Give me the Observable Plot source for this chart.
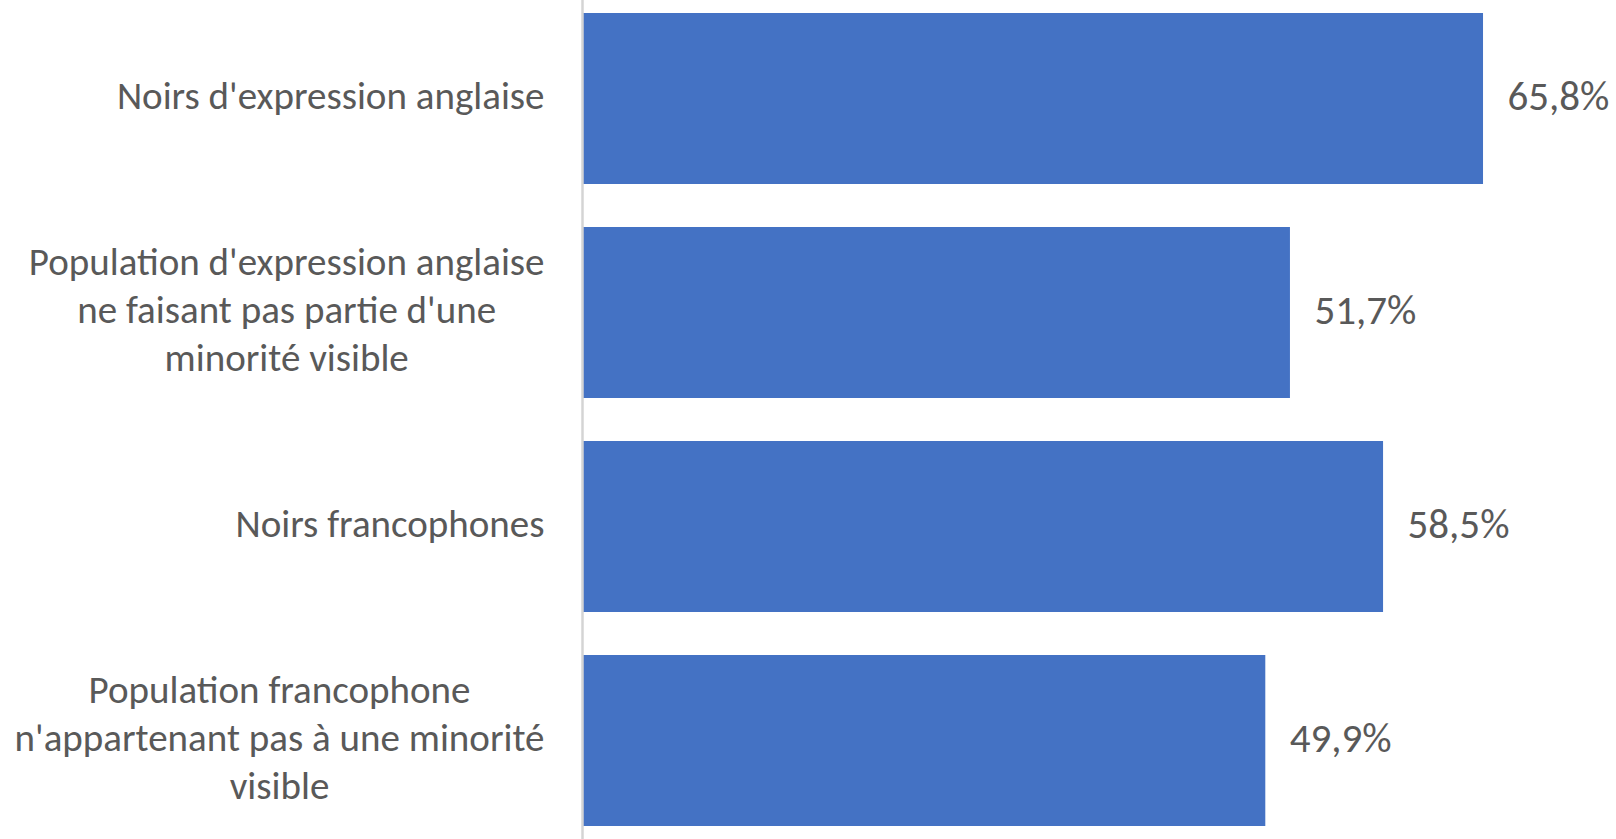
<!DOCTYPE html>
<html>
<head>
<meta charset="utf-8">
<script src="https://cdn.jsdelivr.net/npm/d3@7"></script>
<script src="https://cdn.jsdelivr.net/npm/@observablehq/plot@0.6"></script>
<style>
  html, body { margin: 0; padding: 0; background: #ffffff; }
  #chart { width: 1616px; height: 839px; overflow: hidden; }
</style>
</head>
<body>
<div id="chart"></div>
<script>
const categories = [
  "Noirs d'expression anglaise",
  "Population d'expression anglaise\nne faisant pas partie d'une\nminorité visible",
  "Noirs francophones",
  "Population francophone\nn'appartenant pas à une minorité\nvisible"
];
const values = [65.8, 51.7, 58.5, 49.9];

const data = categories.map((c, i) => ({category: c, value: values[i]}));
const fmt = v => v.toFixed(1).replace(".", ",") + "%";

const FONT = "Carlito, Calibri, Lato, sans-serif";
const FS = 39;
const FSV = 41;

const chart = Plot.plot({
  width: 1616,
  height: 839,
  marginLeft: 582,
  marginRight: 7,
  marginTop: 0,
  marginBottom: 0,
  style: {fontFamily: FONT, fontSize: FS + "px", color: "#595959", background: "#ffffff"},
  x: {domain: [0, 75], axis: null},
  y: {domain: categories, paddingInner: 0.202, paddingOuter: 0.0575, label: null},
  marks: [
    Plot.barX(data, {y: "category", x: "value", fill: "#4472C4"}),
    Plot.ruleX([0], {stroke: "#d4d4d4", strokeWidth: 2.5}),
    Plot.axisY({tickSize: 0, tickPadding: 38, fontSize: FS, lineHeight: 48 / FS, dy: -5, fill: "#595959", label: null}),
    Plot.text(data, {y: "category", x: "value", text: d => fmt(d.value), textAnchor: "start", dx: 24, dy: -2, fill: "#595959", fontSize: FSV})
  ]
});

document.getElementById("chart").appendChild(chart);

// center-align the lines of multi-line tick labels, keeping the block right-aligned
chart.querySelectorAll('g[aria-label="y-axis tick label"] text').forEach(t => {
  const spans = t.querySelectorAll("tspan");
  if (spans.length > 1) {
    let W = 0;
    spans.forEach(s => { W = Math.max(W, s.getComputedTextLength()); });
    t.setAttribute("text-anchor", "middle");
    spans.forEach(s => s.setAttribute("x", -W / 2));
  }
});
</script>
</body>
</html>
